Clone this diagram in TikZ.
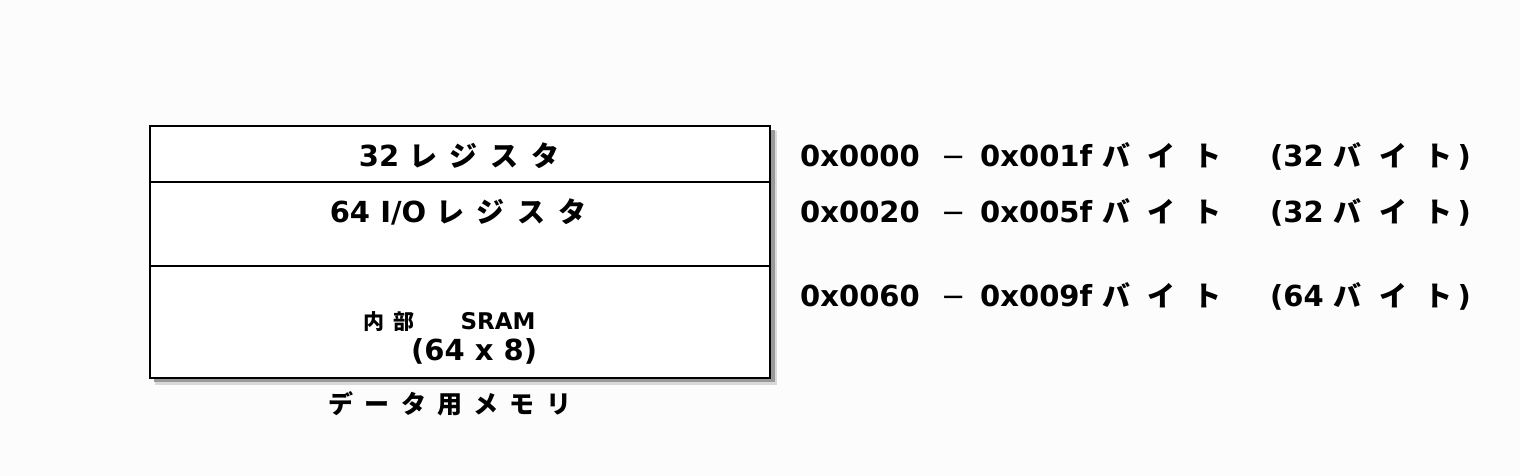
\documentclass[tikz,border=0pt]{standalone}
\usepackage{fontspec}
\setmainfont{DejaVu Sans}
\newfontfamily\jp{Noto Sans CJK JP Bold}
\usepackage{tikz}
\usetikzlibrary{positioning}
\definecolor{bgpaper}{RGB}{252,252,252}
\tikzset{
	lbl/.style={inner sep=0pt, font=\bfseries\fontsize{29}{34}\selectfont},
	small/.style={inner sep=0pt, font=\bfseries\fontsize{23}{26}\selectfont},
	cell/.style={draw=black, line width=1.6pt}
}
\newcommand{\tsize}[1]{\fontsize{#1}{#1}\selectfont}
\newcommand{\ks}{\hspace{0.45em}}
\newcommand{\kw}{\hspace{0.62em}}

\begin{document}
\begin{tikzpicture}[x=1pt, y=-1pt]
		\fill[bgpaper] (0,0) rectangle (1520,476);
		\useasboundingbox (0,0) rectangle (1520,476);
		% shadow and memory block
		\fill[black!15] (155,131) rectangle (777,385);
		\fill[black!40] (154,130) rectangle (775,382);
		\fill[white] (150,126) rectangle (770,378);
		\coordinate (tl) at (150,126);
		\coordinate (br) at (770,378);
		\coordinate (d1l) at (150,182);
		\coordinate (d1r) at (770,182);
		\coordinate (d2l) at (150,266);
		\coordinate (d2r) at (770,266);
		\draw[cell] (tl) rectangle (br);
		\draw[cell] (d1l) -- (d1r);
		\draw[cell] (d2l) -- (d2r);
		% cell texts
		\node[lbl, anchor=base] (gpr) at (459,166) {32 {\jp\tsize{28}レ\ks ジ\ks ス\ks タ}};
		\node[lbl, anchor=base] (io) at (458,222) {64 I/O {\jp\tsize{28}レ\ks ジ\ks ス\ks タ}};
		\node[small, anchor=base west] (sram) at (363,329) {{\jp\tsize{21}内\ks 部}\hspace{46pt}SRAM};
		\node[lbl, anchor=base west] (size) at (411,360) {(64 x 8)};
		\node[lbl, anchor=base] (title) at (450,413) {\jp\tsize{25}デ\ks ー\ks タ\ks 用\ks メ\ks モ\ks リ};
		% address map
		\foreach \i/\y/\a/\b/\n in {1/166/0x0000/0x001f/32, 2/222/0x0020/0x005f/32, 3/306/0x0060/0x009f/64}{
			\node[lbl, anchor=base west] (from\i) at (800,\y) {\a};
			\node[lbl, anchor=base west] (dash\i) at (941,\y) {\mdseries −};
			\node[lbl, anchor=base west] (to\i) at (980,\y) {\b\ {\jp\tsize{28}バ\kw イ\kw ト}};
			\node[lbl, anchor=base west] (len\i) at (1270,\y) {(\n\ {\jp\tsize{28}バ\kw イ\kw ト}\hspace{5pt})};
		}
	\end{tikzpicture}
\end{document}
